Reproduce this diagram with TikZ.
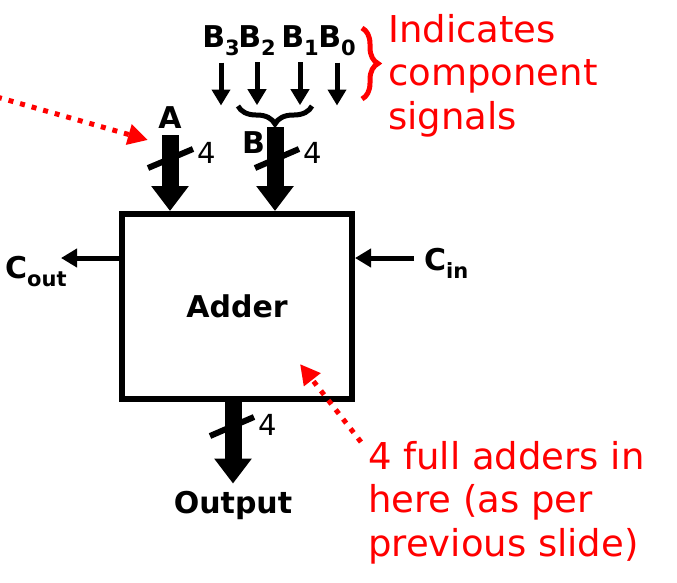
\documentclass[tikz,border=0pt]{standalone}
\usepackage{fontspec}
\setmainfont{DejaVu Sans}
\usetikzlibrary{arrows.meta, calc, decorations.pathreplacing}

\newcommand\lowsub[1]{\raisebox{-8pt}{\fontsize{21}{21}\selectfont #1}}

\tikzset{
  lbl/.style={inner sep=0pt, font=\fontsize{30}{36}\selectfont\bfseries},
  width4/.style={inner sep=0pt, anchor=base west, font=\fontsize{29}{34}\selectfont},
  rednote/.style={inner sep=0pt, anchor=north west, align=left, text=red, font=\fontsize{37}{43.5}\selectfont},
  bus/.style={line width=17pt, -{Triangle[length=25pt,width=36pt]}},
  busslash/.style={line width=6pt},
  sigarrow/.style={line width=5pt, -{Triangle[length=16pt,width=18pt]}},
  pointer/.style={red, line width=5pt, dash pattern=on 5pt off 7pt, -{Triangle[length=20pt,width=20pt]}},
}

\begin{document}
\begin{tikzpicture}[x=1pt, y=-1pt]
\clip (0,0) rectangle (677,582);
% adder block
\node[draw, line width=6pt, minimum width=230pt, minimum height=185pt, inner sep=0pt,
  font=\fontsize{30}{36}\selectfont\bfseries] (adder) at (237,306.5) {Adder};

% input A
\node[lbl, anchor=base] (a) at (170,128) {A};
\draw[bus] ([yshift=-7pt]a.south) -- (a |- adder.north);
\draw[busslash] (148,168) -- (193,149);
\node[width4] (wa) at (197,163) {4};

% component signals of B
\foreach \i/\x in {3/221, 2/257, 1/300, 0/337}{
  \node[lbl, anchor=base] (b\i) at (\x,47) {B\lowsub{\i}};
  \draw[sigarrow] ([yshift=-7pt]b\i.south) -- ([yshift=-50pt]b\i.south);
}
\draw[line width=5pt, decorate, decoration={brace, amplitude=18pt}] (312,106) -- (238,106);
\draw[red, line width=5pt, decorate, decoration={brace, amplitude=16pt}] (362,28) -- (362,99);
\node[rednote] (ind) at (388,14) {Indicates\\component\\signals};

% input B
\coordinate (btip) at (275,127);
\node[lbl, anchor=base west] (b) at (242,153) {B};
\draw[bus] (btip) -- (btip |- adder.north);
\draw[busslash] (255,168) -- (299,149);
\node[width4] (wb) at (303,163) {4};

% carries
\coordinate (coutend) at (61,258);
\draw[sigarrow] (coutend -| adder.west) -- (coutend);
\node[lbl, anchor=base west] (cout) at (5,278) {C\lowsub{out}};
\coordinate (cinstart) at (414,258);
\draw[sigarrow] (cinstart) -- (cinstart -| adder.east);
\node[lbl, anchor=base west] (cin) at (424,270) {C\lowsub{in}};

% output
\node[lbl, anchor=base] (out) at (233,513) {Output};
\draw[bus] (out |- adder.south) -- ([yshift=7pt]out.north);
\draw[busslash] (210,436) -- (254,417);
\node[width4] (wo) at (258,435) {4};

% red notes
\node[rednote] (full) at (368,441) {4 full adders in\\here (as per\\previous slide)};
\draw[pointer] ([xshift=-7pt,yshift=-1pt]full.north west) -- (300,364);
\coordinate (ptra) at (-3,97);
\draw[pointer] (ptra) -- (148,140);
\end{tikzpicture}
\end{document}
